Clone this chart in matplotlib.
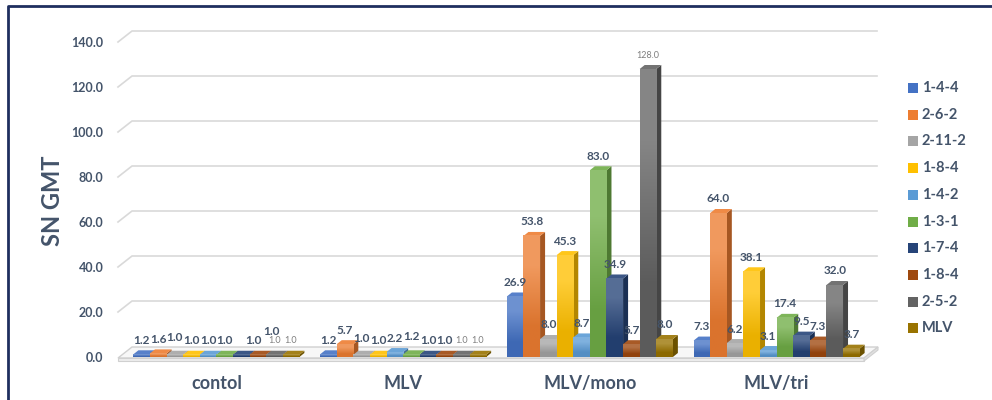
import matplotlib
matplotlib.use('Agg')
import numpy as np
import matplotlib.pyplot as plt
import matplotlib.colors as mcolors
from matplotlib.patches import Polygon, Rectangle
from matplotlib.lines import Line2D

plt.rcParams['font.family'] = ['Lato', 'DejaVu Sans']

categories = ['contol', 'MLV', 'MLV/mono', 'MLV/tri']
series_names = ['1-4-4', '2-6-2', '2-11-2', '1-8-4', '1-4-2',
                '1-3-1', '1-7-4', '1-8-4', '2-5-2', 'MLV']

s_144 = [1.2, 1.2, 26.9, 7.3]
s_262 = [1.6, 5.7, 53.8, 64.0]
s_2112 = [1.0, 1.0, 8.0, 6.2]
s_184a = [1.0, 1.0, 45.3, 38.1]
s_142 = [1.0, 2.2, 8.7, 3.1]
s_131 = [1.0, 1.2, 83.0, 17.4]
s_174 = [1.0, 1.0, 34.9, 9.5]
s_184b = [1.0, 1.0, 5.7, 7.3]
s_252 = [1.0, 1.0, 128.0, 32.0]
s_mlv = [1.0, 1.0, 8.0, 3.7]
all_series = [s_144, s_262, s_2112, s_184a, s_142, s_131, s_174, s_184b, s_252, s_mlv]

colors = ['#4472C4', '#ED7D31', '#A5A5A5', '#FFC000', '#5B9BD5',
          '#70AD47', '#264478', '#9E480E', '#636363', '#997300']

TXT = '#44546A'
W, H = 992, 400

fig = plt.figure(figsize=(W / 100, H / 100), dpi=100)
# front plane of the plot area in pixels
left_px, right_px, bot_px, top_px = 123, 870, 43, 358
ax = fig.add_axes([left_px / W, bot_px / H, (right_px - left_px) / W, (top_px - bot_px) / H])
PX = 4.0 / (right_px - left_px)      # x units per pixel
PY = 140.0 / (top_px - bot_px)       # y units per pixel

for s in ax.spines.values():
    s.set_visible(False)

# back wall gridlines with perspective stubs
bx, by = 14 * PX, 11 * PY
x_front = -0.5 - 5 * PX
x_end = 3.5 + 7 * PX
for yv in range(20, 141, 20):
    ax.add_line(Line2D([x_front, x_front + bx, x_end], [yv, yv + by, yv + by],
                       color='#D9D9D9', lw=1.2, zorder=1, clip_on=False))

# floor
fl = x_front
fr = 3.5 - 6 * PX
f0 = -1 * PY
ax.add_patch(Polygon([(fl, f0), (fr, f0), (fr + bx, f0 + by), (fl + bx, f0 + by)],
                     closed=True, facecolor='#F7F7F7', edgecolor='#D0D0D0', lw=1,
                     zorder=1.5, clip_on=False))
ax.add_patch(Polygon([(fl, f0), (fr, f0), (fr, f0 - 3 * PY), (fl, f0 - 3 * PY)],
                     closed=True, facecolor='#EDEDED', edgecolor='#D0D0D0', lw=0.8,
                     zorder=1.5, clip_on=False))
ax.add_patch(Polygon([(fr, f0), (fr + bx, f0 + by), (fr + bx, f0 + by - 3 * PY), (fr, f0 - 3 * PY)],
                     closed=True, facecolor='#E0E0E0', edgecolor='#D0D0D0', lw=0.8,
                     zorder=1.5, clip_on=False))

# 3d-ish bars
pitch = 16.6 * PX
dx, dy = 5 * PX, 4 * PY
small_labels = {(8, 0), (9, 0), (8, 1), (9, 1), (8, 2)}
nudge = {(2, 0): (0, 3), (6, 0): (12, 0), (7, 0): (14, 9), (5, 1): (0, 4), (2, 1): (0, 2)}


def shade(c, f):
    r, g, b = mcolors.to_rgb(c)
    if f > 0:
        return (r + (1 - r) * f, g + (1 - g) * f, b + (1 - b) * f)
    return (r * (1 + f), g * (1 + f), b * (1 + f))


for j, (name, vals, col) in enumerate(zip(series_names, all_series, colors)):
    xs = [i + (j - 4.5) * pitch for i in range(len(categories))]
    z = 3 + j * 0.1
    bars = ax.bar(xs, vals, width=pitch, color=col, edgecolor='none', zorder=z + 0.02,
                  clip_on=False)
    grad = np.array([shade(col, 0.22), shade(col, -0.08)]).reshape(2, 1, 3)
    for i, (b, v) in enumerate(zip(bars, vals)):
        x0 = b.get_x()
        x1 = x0 + b.get_width()
        ax.imshow(grad, extent=(x0, x1, 0, v), aspect='auto', interpolation='bilinear',
                  zorder=z + 0.03, clip_on=False)
        ax.add_patch(Polygon([(x1, 0), (x1 + dx, dy), (x1 + dx, v + dy), (x1, v)],
                             closed=True, facecolor=shade(col, -0.3), edgecolor='none',
                             zorder=z, clip_on=False))
        ax.add_patch(Polygon([(x0, v), (x1, v), (x1 + dx, v + dy), (x0 + dx, v + dy)],
                             closed=True, facecolor=shade(col, 0.1), edgecolor='none',
                             zorder=z + 0.01, clip_on=False))
        nx, ny = nudge.get((j, i), (0, 0))
        lx = x0 + b.get_width() / 2 + nx * PX
        ly = v + (14 + ny) * PY
        if (j, i) in small_labels:
            ax.text(lx, ly, f'{v:.1f}', ha='center', va='center', fontsize=6.5,
                    color='#7F7F7F', zorder=10)
        else:
            ax.text(lx, ly, f'{v:.1f}', ha='center', va='center', fontsize=8.5,
                    fontweight='bold', color=TXT, zorder=10)

ax.set_xlim(-0.5, 3.5)
ax.set_ylim(0, 140)
ax.set_aspect('auto')
ax.set_yticks(range(0, 141, 20))
ax.set_yticklabels([f'{v:.1f}' for v in range(0, 141, 20)])
ax.set_xticks(range(len(categories)))
ax.set_xticklabels(categories)
ax.tick_params(axis='y', length=0, pad=14, labelsize=9, labelcolor=TXT)
ax.tick_params(axis='x', length=0, pad=13, labelsize=13, labelcolor=TXT)
for t in ax.get_yticklabels() + ax.get_xticklabels():
    t.set_fontweight('bold')

fig.text(53 / W, 1 - 201 / H, 'SN GMT', rotation=90, ha='center', va='center',
         fontsize=17, fontweight='bold', color=TXT)

# legend, drawn as squares and texts in figure pixels
for k, (name, col) in enumerate(zip(series_names, colors)):
    yc = 88 + k * 26.7
    fig.add_artist(Rectangle((908 / W, 1 - (yc + 5) / H), 10 / W, 10 / H,
                             transform=fig.transFigure, facecolor=col, edgecolor='none'))
    fig.text(922 / W, 1 - yc / H, name, ha='left', va='center', fontsize=10.5,
             fontweight='bold', color=TXT)

# outer frame (left and top edges)
fig.add_artist(Line2D([8 / W, 8 / W, 1.0], [0, 1 - 6 / H, 1 - 6 / H],
                      transform=fig.transFigure, color='#1F2F5F', lw=2))

fig.savefig('out.png', dpi=100)
